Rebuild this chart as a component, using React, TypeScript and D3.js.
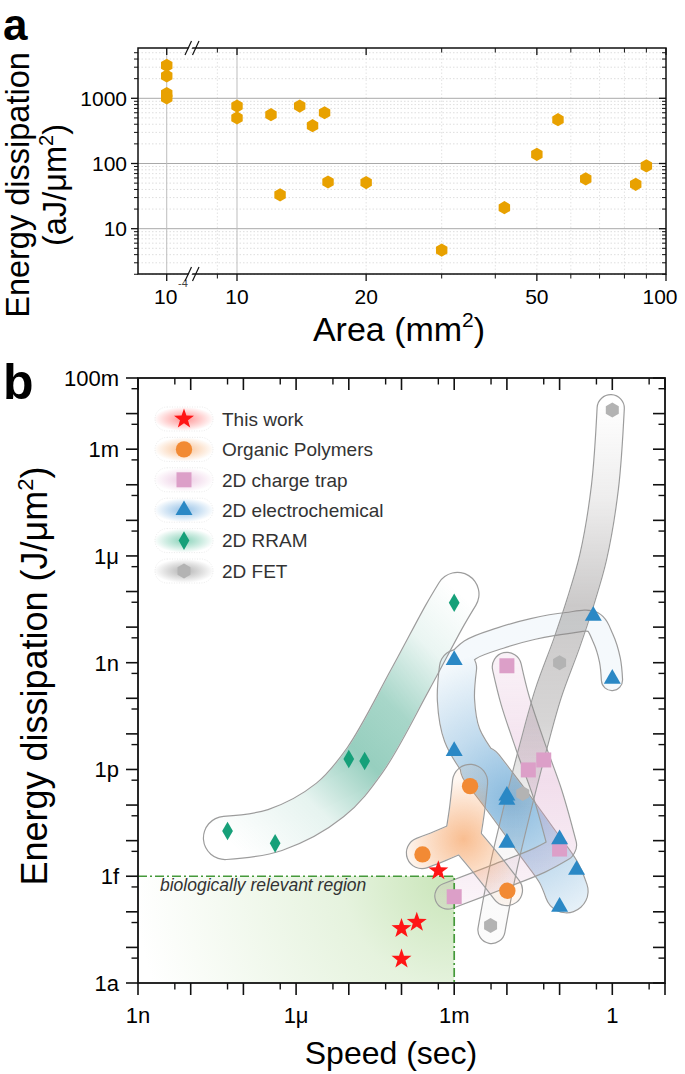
import React from 'react';
import * as d3 from 'd3';

const W = 685;
const H = 1074;
const FONT = "'Liberation Sans', Arial, Helvetica, sans-serif";

// ---------------- Panel a data ----------------
const breakArea = [1e-4, 1e-4, 1e-4, 1e-4];
const breakEnergy = [3200, 2200, 1180, 1010];
const areaValues = [10, 10, 12, 12.6, 14, 15, 16, 16.3, 20, 30, 42, 50, 56, 65, 85, 90];
const energyValuesA = [760, 500, 560, 33, 760, 380, 600, 52, 51, 4.7, 21, 138, 470, 58, 48, 92];
const areaMajorTicks = [10, 20, 50, 100];
const areaMinorTicks = [9, 30, 40, 60, 70, 80, 90];
const energyMajorTicksA = [10, 100, 1000];

// ---------------- Panel b data ----------------
const seriesNames = ['This work', 'Organic Polymers', '2D charge trap', '2D electrochemical', '2D RRAM', '2D FET'];
const thisWorkSpeed = [5e-4, 1.95e-4, 1e-4, 1e-4];
const thisWorkEnergy = [1.43e-15, 5.1e-17, 3.4e-17, 4.7e-18];
const organicSpeed = [2e-3, 2.5e-4, 0.0102];
const organicEnergy = [3.4e-13, 4.1e-15, 3.9e-16];
const chargeTrapSpeed = [0.01, 0.0255, 0.05, 0.1, 1e-3];
const chargeTrapEnergy = [8.2e-10, 9.7e-13, 1.85e-12, 5.8e-15, 2.66e-16];
const electroSpeed = [1e-3, 0.436, 1, 1e-3, 0.01, 0.01, 0.01, 0.1, 0.21, 0.1];
const electroEnergy = [1.19e-9, 2.09e-8, 3.5e-10, 3.3e-12, 1.83e-13, 1.39e-13, 8.7e-15, 1.09e-14, 1.5e-15, 1.39e-16];
const rramSpeed = [1e-3, 1e-5, 2e-5, 5e-8, 4e-7];
const rramEnergy = [4.85e-8, 1.97e-12, 1.73e-12, 1.87e-14, 8.4e-15];
const fetSpeed = [1, 0.1, 0.02, 4.9e-3];
const fetEnergy = [0.0126, 1e-9, 2.1e-13, 4.1e-17];

const speedLabels = ['1n', '1μ', '1m', '1'];
const speedLabelValues = [1e-9, 1e-6, 1e-3, 1];
const energyLabels = ['1a', '1f', '1p', '1n', '1μ', '1m', '100m'];
const energyLabelValues = [1e-18, 1e-15, 1e-12, 1e-9, 1e-6, 1e-3, 1e-1];
const bioSpeedMax = 1e-3;
const bioEnergyMax = 1e-15;

// group outlines (centre lines, [speed, energy])
const rramBand: [number, number][] = [[4.48e-8, 1.19e-14], [3.98e-7, 1.99e-14], [4.4e-6, 1.39e-13], [2.03e-5, 1.85e-12], [1.45e-4, 3.27e-10], [6.68e-4, 2.19e-8], [1.15e-3, 8.5e-8]];
const electroBandTop: [number, number][] = [[0.986, 3.27e-10], [0.9, 1.19e-9], [0.667, 4.9e-9], [0.43, 1.39e-8], [0.138, 1.3e-8], [0.0313, 8.9e-9], [7.4e-3, 4.9e-9], [2e-3, 2.3e-9], [1.03e-3, 8.6e-10]];
const electroBandLeft: [number, number][] = [[1.18e-3, 7.1e-10], [1.08e-3, 8.95e-11], [1.41e-3, 9.3e-12], [3.37e-3, 1.1e-12]];
const electroBandLow: [number, number][] = [[3.37e-3, 1.1e-12], [0.0105, 1.2e-13], [0.0395, 8e-15], [0.095, 1.3e-15], [0.135, 3.8e-16]];
const trapBandA: [number, number][] = [[0.01, 7.6e-10], [0.01426, 8.95e-11], [0.0274, 4.9e-12], [0.0603, 1.9e-13], [0.111, 7.5e-15]];
const trapBandB: [number, number][] = [[0.111, 6.2e-15], [0.0425, 2.86e-15], [7.4e-3, 1.01e-15], [7.6e-4, 2.78e-16]];
const fetBand: [number, number][] = [[0.933, 0.0141], [0.726, 8.8e-5], [0.436, 9.5e-7], [0.244, 4.67e-8], [0.136, 3.5e-9], [0.061, 1.38e-10], [0.0317, 4.37e-12], [0.0156, 7.3e-14], [8.4e-3, 1.5e-15], [5.1e-3, 3.1e-17]];
const organicBandTop: [number, number][] = [[2e-3, 4.45e-13], [1.75e-3, 7.3e-14], [1.47e-3, 1.35e-14]];
const organicBandLeft: [number, number][] = [[1.47e-3, 1.35e-14], [5.4e-4, 7.1e-15], [2.45e-4, 4.5e-15]];
const organicBandRight: [number, number][] = [[1.47e-3, 1.35e-14], [4.4e-3, 1.94e-15], [0.01, 4.1e-16]];

// ---------------- scales ----------------
const xaR = d3.scaleLog().domain([10, 100]).range([237, 666]);
const xaL = d3.scaleLog().domain([8.6e-5, 1.13e-4]).range([138, 190]);
const ya = d3.scaleLog().domain([10, 1000]).range([228.7, 98.3]);
const A = { l: 138, r: 666, t: 48, b: 274 };

const xb = d3.scaleLog().domain([1e-9, 10]).range([138, 665]);
const yb = d3.scaleLog().domain([1e-18, 1e-1]).range([983, 378]);
const B = { l: 138, r: 665, t: 378, b: 983 };

const tube = d3
  .line<[number, number]>()
  .x((d) => xb(d[0]))
  .y((d) => yb(d[1]))
  .curve(d3.curveCatmullRom.alpha(0.5));

function hexPath(cx: number, cy: number, r: number) {
  const pts = d3.range(6).map((k) => {
    const a = ((-90 + 60 * k) * Math.PI) / 180;
    return [cx + r * Math.cos(a), cy + r * Math.sin(a)];
  });
  return 'M' + pts.map((p) => p.join(',')).join('L') + 'Z';
}
function starPath(cx: number, cy: number, R: number) {
  const pts = d3.range(10).map((k) => {
    const r = k % 2 === 0 ? R : R * 0.4;
    const a = ((-90 + 36 * k) * Math.PI) / 180;
    return [cx + r * Math.cos(a), cy + r * Math.sin(a)];
  });
  return 'M' + pts.map((p) => p.join(',')).join('L') + 'Z';
}
const symCircle = d3.symbol().type(d3.symbolCircle).size(210);
const symSquare = d3.symbol().type(d3.symbolSquare).size(225);
const symTriangle = d3.symbol().type(d3.symbolTriangle).size(125);
const symDiamond = d3.symbol().type(d3.symbolDiamond).size(100);

const COL = {
  red: '#ff1515',
  orange: '#f28a34',
  pink: '#dc9fc8',
  blue: '#2b88c5',
  green: '#16a079',
  gray: '#b3b3b3',
  gold: '#e8a100',
};

function marker(kind: number, x: number, y: number, key: string | number) {
  switch (kind) {
    case 0:
      return <path key={key} d={starPath(x, y, 10.5)} fill={COL.red} />;
    case 1:
      return <path key={key} transform={`translate(${x},${y})`} d={symCircle() as string} fill={COL.orange} />;
    case 2:
      return <path key={key} transform={`translate(${x},${y})`} d={symSquare() as string} fill={COL.pink} />;
    case 3:
      return <path key={key} transform={`translate(${x},${y})`} d={symTriangle() as string} fill={COL.blue} />;
    case 4:
      return <path key={key} transform={`translate(${x},${y})`} d={symDiamond() as string} fill={COL.green} />;
    default:
      return <path key={key} d={hexPath(x, y, 7.5)} fill={COL.gray} />;
  }
}

const seriesData = [
  [thisWorkSpeed, thisWorkEnergy],
  [organicSpeed, organicEnergy],
  [chargeTrapSpeed, chargeTrapEnergy],
  [electroSpeed, electroEnergy],
  [rramSpeed, rramEnergy],
  [fetSpeed, fetEnergy],
];
const legendBg = ['#ff4a4a', '#f59a50', '#e0a6d0', '#4f98d6', '#3db58c', '#808080'];

type Seg = { pts: [number, number][]; w: number };
const blobs: { id: string; fill: string; segs: Seg[] }[] = [
  { id: 'rram', fill: 'url(#gRram)', segs: [{ pts: rramBand, w: 42 }] },
  {
    id: 'electro',
    fill: 'url(#gElectro)',
    segs: [
      { pts: electroBandTop, w: 20 },
      { pts: electroBandLeft, w: 36 },
      { pts: electroBandLow, w: 42 },
    ],
  },
  { id: 'trap', fill: 'url(#gTrap)', segs: [{ pts: trapBandA, w: 28 }, { pts: trapBandB, w: 25 }] },
  { id: 'fet', fill: 'url(#gFet)', segs: [{ pts: fetBand, w: 26 }] },
  {
    id: 'organic',
    fill: 'url(#gOrganic)',
    segs: [
      { pts: organicBandTop, w: 34 },
      { pts: organicBandLeft, w: 30 },
      { pts: organicBandRight, w: 30 },
    ],
  },
];

function minorDecades(lo: number, hi: number, mults: number[]) {
  const out: number[] = [];
  for (let k = lo; k <= hi; k++) mults.forEach((m) => out.push(m * Math.pow(10, k)));
  return out;
}

export default function App() {
  const yaMinor = minorDecades(0, 3, [2, 3, 4, 5, 6, 7, 8, 9]).filter((v) => v >= 2 && v <= 5900 && ![10, 100, 1000].includes(v));
  const ybMajor = d3.range(-18, 0).map((k) => Math.pow(10, k));
  const ybMinor = d3.range(-18, -1).map((k) => 5 * Math.pow(10, k));
  const xbMajor = d3.range(-9, 2).map((k) => Math.pow(10, k));
  const xbMinor = d3.range(-9, 1).map((k) => 5 * Math.pow(10, k));

  const bioX = xb(bioSpeedMax);
  const bioY = yb(bioEnergyMax);

  const legendY = (i: number) => 419 + i * 30.4;

  return (
    <svg width={W} height={H} viewBox={`0 0 ${W} ${H}`} style={{ display: 'block', position: 'absolute', left: 0, top: 0, background: '#fff' }} fontFamily={FONT}>
      <defs>
        <linearGradient id="gRram" gradientUnits="userSpaceOnUse" x1={xb(4.5e-8)} y1={yb(1.2e-14)} x2={xb(1.2e-3)} y2={yb(1e-7)}>
          <stop offset="0" stopColor="#2e9e7e" stopOpacity={0} />
          <stop offset="0.25" stopColor="#2e9e7e" stopOpacity={0.12} />
          <stop offset="0.45" stopColor="#2e9e7e" stopOpacity={0.5} />
          <stop offset="0.62" stopColor="#2e9e7e" stopOpacity={0.42} />
          <stop offset="0.82" stopColor="#2e9e7e" stopOpacity={0.1} />
          <stop offset="1" stopColor="#2e9e7e" stopOpacity={0} />
        </linearGradient>
        <radialGradient id="gElectro" gradientUnits="userSpaceOnUse" cx={xb(0.012)} cy={yb(1.4e-13)} r={150}>
          <stop offset="0" stopColor="#3a8cc8" stopOpacity={0.6} />
          <stop offset="0.5" stopColor="#3a8cc8" stopOpacity={0.3} />
          <stop offset="1" stopColor="#3a8cc8" stopOpacity={0.05} />
        </radialGradient>
        <linearGradient id="gTrap" gradientUnits="userSpaceOnUse" x1={0} y1={yb(1e-9)} x2={0} y2={yb(2e-16)}>
          <stop offset="0" stopColor="#d9a0c8" stopOpacity={0.15} />
          <stop offset="0.5" stopColor="#d9a0c8" stopOpacity={0.35} />
          <stop offset="1" stopColor="#d9a0c8" stopOpacity={0.12} />
        </linearGradient>
        <linearGradient id="gFet" gradientUnits="userSpaceOnUse" x1={0} y1={yb(0.02)} x2={0} y2={yb(2e-17)}>
          <stop offset="0" stopColor="#8c8888" stopOpacity={0} />
          <stop offset="0.18" stopColor="#8c8888" stopOpacity={0.15} />
          <stop offset="0.38" stopColor="#8c8888" stopOpacity={0.45} />
          <stop offset="0.6" stopColor="#8c8888" stopOpacity={0.35} />
          <stop offset="0.78" stopColor="#8c8888" stopOpacity={0.08} />
          <stop offset="1" stopColor="#8c8888" stopOpacity={0.03} />
        </linearGradient>
        <radialGradient id="gOrganic" gradientUnits="userSpaceOnUse" cx={xb(1.5e-3)} cy={yb(1.1e-14)} r={60}>
          <stop offset="0" stopColor="#f59a55" stopOpacity={0.65} />
          <stop offset="1" stopColor="#f59a55" stopOpacity={0.08} />
        </radialGradient>
        <radialGradient id="gBio" gradientUnits="userSpaceOnUse" cx={bioX} cy={bioY} r={320}>
          <stop offset="0" stopColor="#b6dca0" stopOpacity={0.75} />
          <stop offset="0.35" stopColor="#b6dca0" stopOpacity={0.35} />
          <stop offset="1" stopColor="#b6dca0" stopOpacity={0} />
        </radialGradient>
        {legendBg.map((c, i) => (
          <radialGradient key={i} id={`lg${i}`}>
            <stop offset="0" stopColor={c} stopOpacity={0.6} />
            <stop offset="0.6" stopColor={c} stopOpacity={0.25} />
            <stop offset="1" stopColor={c} stopOpacity={0} />
          </radialGradient>
        ))}
        {blobs.map((b) => (
          <React.Fragment key={b.id}>
            <mask id={`fill-${b.id}`} maskUnits="userSpaceOnUse" x={0} y={0} width={W} height={H}>
              {b.segs.map((s, i) => (
                <path key={i} d={tube(s.pts) as string} fill="none" stroke="white" strokeWidth={s.w} strokeLinecap="round" strokeLinejoin="round" />
              ))}
            </mask>
            <mask id={`ring-${b.id}`} maskUnits="userSpaceOnUse" x={0} y={0} width={W} height={H}>
              {b.segs.map((s, i) => (
                <path key={i} d={tube(s.pts) as string} fill="none" stroke="white" strokeWidth={s.w + 2.4} strokeLinecap="round" strokeLinejoin="round" />
              ))}
              {b.segs.map((s, i) => (
                <path key={'k' + i} d={tube(s.pts) as string} fill="none" stroke="black" strokeWidth={s.w} strokeLinecap="round" strokeLinejoin="round" />
              ))}
            </mask>
          </React.Fragment>
        ))}
      </defs>

      {/* ================= Panel a ================= */}
      <text x={3} y={40} fontSize={44} fontWeight="bold">a</text>
      {yaMinor.map((v, i) => (
        <line key={'gm' + i} x1={A.l} x2={A.r} y1={ya(v)} y2={ya(v)} stroke="#d6d6d6" strokeWidth={0.8} strokeDasharray="1.5 2" />
      ))}
      {[...areaMinorTicks, 20, 50].map((v, i) => (
        <line key={'gv' + i} x1={xaR(v)} x2={xaR(v)} y1={A.t} y2={A.b} stroke="#dcdcdc" strokeWidth={0.8} strokeDasharray="1.5 2" />
      ))}
      {energyMajorTicksA.map((v) => (
        <line key={'gM' + v} x1={A.l} x2={A.r} y1={ya(v)} y2={ya(v)} stroke="#a9a9a9" strokeWidth={1} />
      ))}
      <line x1={xaL(1e-4)} x2={xaL(1e-4)} y1={A.t} y2={A.b} stroke="#bdbdbd" strokeWidth={1} />
      <line x1={xaR(10)} x2={xaR(10)} y1={A.t} y2={A.b} stroke="#bdbdbd" strokeWidth={1} />
      {breakArea.map((v, i) => (
        <path key={'pb' + i} d={hexPath(xaL(v), ya(breakEnergy[i]), 6.6)} fill={COL.gold} />
      ))}
      {areaValues.map((v, i) => (
        <path key={'pa' + i} d={hexPath(xaR(v), ya(energyValuesA[i]), 6.6)} fill={COL.gold} />
      ))}
      <rect x={A.l} y={A.t} width={A.r - A.l} height={A.b - A.t} fill="none" stroke="#111" strokeWidth={1.5} />
      {energyMajorTicksA.map((v) => (
        <g key={'ta' + v}>
          <line x1={A.l - 7} x2={A.l} y1={ya(v)} y2={ya(v)} stroke="#111" strokeWidth={1.3} />
          <line x1={A.r - 7} x2={A.r} y1={ya(v)} y2={ya(v)} stroke="#111" strokeWidth={1.3} />
          <text x={127} y={ya(v)} dy="0.36em" textAnchor="end" fontSize={21}>{v}</text>
        </g>
      ))}
      {yaMinor.map((v, i) => (
        <g key={'tam' + i}>
          <line x1={A.l - 4} x2={A.l} y1={ya(v)} y2={ya(v)} stroke="#111" strokeWidth={1} />
          <line x1={A.r - 4} x2={A.r} y1={ya(v)} y2={ya(v)} stroke="#111" strokeWidth={1} />
        </g>
      ))}
      {areaMajorTicks.map((v) => (
        <g key={'txa' + v}>
          <line x1={xaR(v)} x2={xaR(v)} y1={A.b} y2={A.b + 7} stroke="#111" strokeWidth={1.3} />
          <line x1={xaR(v)} x2={xaR(v)} y1={A.t} y2={A.t + 7} stroke="#111" strokeWidth={1.3} />
          <text x={v === 100 ? xaR(v) - 6 : xaR(v)} y={304} textAnchor="middle" fontSize={21}>{v}</text>
        </g>
      ))}
      {areaMinorTicks.map((v) => (
        <g key={'txm' + v}>
          <line x1={xaR(v)} x2={xaR(v)} y1={A.b} y2={A.b + 4.5} stroke="#111" strokeWidth={1} />
          <line x1={xaR(v)} x2={xaR(v)} y1={A.t} y2={A.t + 4.5} stroke="#111" strokeWidth={1} />
        </g>
      ))}
      <line x1={xaL(1e-4)} x2={xaL(1e-4)} y1={A.b} y2={A.b + 7} stroke="#111" strokeWidth={1.3} />
      <line x1={xaL(1e-4)} x2={xaL(1e-4)} y1={A.t} y2={A.t + 7} stroke="#111" strokeWidth={1.3} />
      <text x={154} y={304} fontSize={21}>10</text>
      <text x={178} y={287} fontSize={11} fill="#444">-4</text>
      {[A.t, A.b].map((yy) => (
        <g key={'br' + yy}>
          <polygon points={`${186},${yy + 6} ${192},${yy - 6} ${195},${yy - 6} ${189},${yy + 6}`} fill="#fff" />
          <line x1={185} y1={yy + 7} x2={191.5} y2={yy - 7} stroke="#111" strokeWidth={1.2} />
          <line x1={192.5} y1={yy + 7} x2={199} y2={yy - 7} stroke="#111" strokeWidth={1.2} />
        </g>
      ))}
      <text transform="translate(29,185) rotate(-90)" textAnchor="middle" fontSize={32.5}>Energy dissipation</text>
      <text transform="translate(66,185) rotate(-90)" textAnchor="middle" fontSize={32.5}>
        (aJ/μm<tspan dy={-13} fontSize={20}>2</tspan>
        <tspan dy={13}>)</tspan>
      </text>
      <text x={399} y={341} textAnchor="middle" fontSize={34}>
        Area (mm<tspan dy={-14} fontSize={21}>2</tspan>
        <tspan dy={14}>)</tspan>
      </text>

      {/* ================= Panel b ================= */}
      <text x={3} y={399} fontSize={50} fontWeight="bold">b</text>
      <rect x={B.l} y={bioY} width={bioX - B.l} height={B.b - bioY} fill="url(#gBio)" />
      {blobs.map((b) => (
        <g key={'blob' + b.id}>
          <rect x={0} y={0} width={W} height={H} fill={b.fill} mask={`url(#fill-${b.id})`} />
          <rect x={0} y={0} width={W} height={H} fill="#9c9c9c" mask={`url(#ring-${b.id})`} />
        </g>
      ))}
      <polyline
        points={`${B.l},${bioY} ${bioX},${bioY} ${bioX},${B.b}`}
        fill="none"
        stroke="#45993a"
        strokeWidth={1.7}
        strokeDasharray="9 3 2 3"
      />
      <text x={160} y={891} fontSize={17.5} fontStyle="italic" fill="#333">biologically relevant region</text>
      {seriesData.map(([xs, ys], si) => (
        <g key={'s' + si}>{xs.map((v, i) => marker(si, xb(v), yb(ys[i]), i))}</g>
      ))}
      <rect x={B.l} y={B.t} width={B.r - B.l} height={B.b - B.t} fill="none" stroke="#111" strokeWidth={1.8} />
      {ybMajor.map((v, i) => (
        <g key={'yb' + i}>
          <line x1={B.l - 12} x2={B.l} y1={yb(v)} y2={yb(v)} stroke="#111" strokeWidth={1.6} />
          <line x1={B.r - 12} x2={B.r} y1={yb(v)} y2={yb(v)} stroke="#111" strokeWidth={1.6} />
        </g>
      ))}
      {ybMinor.map((v, i) => (
        <g key={'ybm' + i}>
          <line x1={B.l - 6.5} x2={B.l} y1={yb(v)} y2={yb(v)} stroke="#111" strokeWidth={1.4} />
          <line x1={B.r - 6.5} x2={B.r} y1={yb(v)} y2={yb(v)} stroke="#111" strokeWidth={1.4} />
        </g>
      ))}
      {xbMajor.map((v, i) => (
        <g key={'xb' + i}>
          <line x1={xb(v)} x2={xb(v)} y1={B.b} y2={B.b + 12} stroke="#111" strokeWidth={1.6} />
          <line x1={xb(v)} x2={xb(v)} y1={B.t} y2={B.t + 12} stroke="#111" strokeWidth={1.6} />
        </g>
      ))}
      {xbMinor.map((v, i) => (
        <g key={'xbm' + i}>
          <line x1={xb(v)} x2={xb(v)} y1={B.b} y2={B.b + 6.5} stroke="#111" strokeWidth={1.4} />
          <line x1={xb(v)} x2={xb(v)} y1={B.t} y2={B.t + 6.5} stroke="#111" strokeWidth={1.4} />
        </g>
      ))}
      {energyLabels.map((t, i) => (
        <text key={'yl' + i} x={119} y={yb(energyLabelValues[i])} dy="0.36em" textAnchor="end" fontSize={22}>{t}</text>
      ))}
      {speedLabels.map((t, i) => (
        <text key={'xl' + i} x={xb(speedLabelValues[i])} y={1023} textAnchor="middle" fontSize={22}>{t}</text>
      ))}
      <text transform="translate(47,676) rotate(-90)" textAnchor="middle" fontSize={36}>
        Energy dissipation (J/μm<tspan dy={-14} fontSize={22}>2</tspan>
        <tspan dy={14}>)</tspan>
      </text>
      <text x={391} y={1064} textAnchor="middle" fontSize={32}>Speed (sec)</text>

      {seriesNames.map((name, i) => (
        <g key={'lg' + i}>
          <rect x={155} y={legendY(i) - 12} width={58} height={24} rx={12} fill="none" stroke="#e4e4e4" strokeWidth={0.8} strokeDasharray="1 1.5" />
          <ellipse cx={184} cy={legendY(i)} rx={30} ry={12} fill={`url(#lg${i})`} />
          {marker(i, 184, legendY(i), 'm' + i)}
          <text x={222} y={legendY(i)} dy="0.36em" fontSize={19} fill="#333">{name}</text>
        </g>
      ))}
    </svg>
  );
}
